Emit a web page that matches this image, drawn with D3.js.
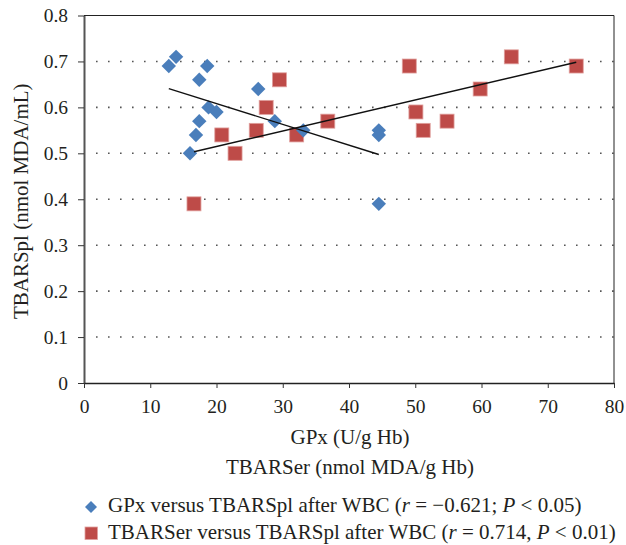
<!DOCTYPE html>
<html>
<head>
<meta charset="utf-8">
<script src="https://cdn.jsdelivr.net/npm/d3@7"></script>
<style>
  body { margin: 0; background: #fff; }
  text { font-family: "Liberation Serif", "DejaVu Serif", serif; fill: #231f20; }
</style>
</head>
<body>
<svg width="626" height="545"></svg>
<script>
// GPx vs TBARSpl (blue diamonds)
const gpxX = [12.8, 13.9, 18.6, 17.4, 26.3, 18.8, 20.0, 17.4, 28.8, 16.9, 16.0, 33.1, 44.5, 44.5, 44.5];
const gpxY = [0.69, 0.71, 0.69, 0.66, 0.64, 0.60, 0.59, 0.57, 0.57, 0.54, 0.50, 0.55, 0.55, 0.54, 0.39];
// TBARSer vs TBARSpl (red squares)
const serX = [16.6, 20.8, 22.8, 26.0, 27.5, 29.5, 32.1, 36.8, 49.1, 50.1, 51.2, 54.8, 59.8, 64.5, 74.3];
const serY = [0.39, 0.54, 0.50, 0.55, 0.60, 0.66, 0.54, 0.57, 0.69, 0.59, 0.55, 0.57, 0.64, 0.71, 0.69];

const xTicks = [0, 10, 20, 30, 40, 50, 60, 70, 80];
const yTicks = [0, 0.1, 0.2, 0.3, 0.4, 0.5, 0.6, 0.7, 0.8];

const svg = d3.select('svg');
const pLeft = 84, pRight = 614, pTop = 15.5, pBottom = 383;

const x = d3.scaleLinear().domain([0, 80]).range([pLeft, pRight]);
const y = d3.scaleLinear().domain([0, 0.8]).range([pBottom, pTop]);

// dotted gridlines
svg.append('g')
  .selectAll('line')
  .data(yTicks.filter(t => t > 0 && t < 0.8))
  .enter().append('line')
  .attr('x1', pLeft + 12).attr('x2', pRight)
  .attr('y1', d => y(d)).attr('y2', d => y(d))
  .attr('stroke', '#555')
  .attr('stroke-width', 1.6)
  .attr('stroke-dasharray', '1.6,10.4');

// plot frame (top/right)
svg.append('path')
  .attr('d', `M${pLeft},${pTop}H${pRight}V${pBottom}`)
  .attr('fill', 'none')
  .attr('stroke', '#222')
  .attr('stroke-width', 1);

// axes
const yAxis = svg.append('g')
  .attr('transform', `translate(${pLeft},0)`)
  .call(d3.axisLeft(y).tickValues(yTicks).tickSize(6).tickSizeOuter(0)
    .tickFormat(d => d === 0 ? '0' : d3.format('.1f')(d)));
yAxis.select('.domain').attr('stroke', '#555').attr('stroke-width', 2);
yAxis.selectAll('.tick line').attr('stroke', '#333');
yAxis.selectAll('.tick text').attr('x', -16).attr('dy', '0.32em').style('font-size', '19.5px');

const xAxis = svg.append('g')
  .attr('transform', `translate(0,${pBottom})`)
  .call(d3.axisBottom(x).tickValues(xTicks).tickSize(5).tickSizeOuter(0));
xAxis.select('.domain').attr('stroke', '#222').attr('stroke-width', 1.3);
xAxis.selectAll('.tick line').attr('stroke', '#333');
xAxis.selectAll('.tick text').attr('y', 16).style('font-size', '19.5px');

// least-squares trend line
function trend(xs, ys) {
  const n = xs.length;
  const mx = d3.mean(xs), my = d3.mean(ys);
  let sxy = 0, sxx = 0;
  for (let i = 0; i < n; i++) { sxy += (xs[i] - mx) * (ys[i] - my); sxx += (xs[i] - mx) ** 2; }
  const b = sxy / sxx, a = my - b * mx;
  const x0 = d3.min(xs), x1 = d3.max(xs);
  return [[x0, a + b * x0], [x1, a + b * x1]];
}

const blue = '#4A7EBB', red = '#BE4B48';

// red squares
svg.append('g').selectAll('rect')
  .data(d3.zip(serX, serY))
  .enter().append('rect')
  .attr('x', d => x(d[0]) - 7).attr('y', d => y(d[1]) - 7)
  .attr('width', 14).attr('height', 14)
  .attr('fill', red).attr('stroke', '#E0A09E').attr('stroke-width', 0.8);

// blue diamonds
const diamond = d3.symbol().type(d3.symbolSquare).size(104);
svg.append('g').selectAll('path')
  .data(d3.zip(gpxX, gpxY))
  .enter().append('path')
  .attr('d', diamond)
  .attr('transform', d => `translate(${x(d[0])},${y(d[1])}) rotate(45)`)
  .attr('fill', blue);

// trend lines
const line = d3.line().x(d => x(d[0])).y(d => y(d[1]));
[trend(gpxX, gpxY), trend(serX, serY)].forEach(t => {
  svg.append('path').attr('d', line(t))
    .attr('fill', 'none').attr('stroke', '#111').attr('stroke-width', 1.4);
});

// axis titles
svg.append('text')
  .attr('transform', `translate(28,${(pTop + pBottom) / 2 + 2}) rotate(-90)`)
  .attr('text-anchor', 'middle')
  .style('font-size', '21px')
  .text('TBARSpl (nmol MDA/mL)');

svg.append('text')
  .attr('x', (pLeft + pRight) / 2 + 1).attr('y', 444)
  .attr('text-anchor', 'middle')
  .style('font-size', '21px')
  .text('GPx (U/g Hb)');

svg.append('text')
  .attr('x', (pLeft + pRight) / 2 + 1).attr('y', 474)
  .attr('text-anchor', 'middle')
  .style('font-size', '21px')
  .text('TBARSer (nmol MDA/g Hb)');

// legend
const lg = svg.append('g').style('font-size', '21px');
lg.append('path').attr('d', d3.symbol().type(d3.symbolSquare).size(72)())
  .attr('transform', 'translate(91,507) rotate(45)').attr('fill', blue);
const t1 = lg.append('text').attr('x', 108).attr('y', 512);
t1.append('tspan').text('GPx versus TBARSpl after WBC (');
t1.append('tspan').style('font-style', 'italic').text('r');
t1.append('tspan').text(' = \u22120.621; ');
t1.append('tspan').style('font-style', 'italic').text('P');
t1.append('tspan').text(' < 0.05)');

lg.append('rect').attr('x', 85).attr('y', 527).attr('width', 12.5).attr('height', 12.5)
  .attr('fill', red).attr('stroke', '#E0A09E').attr('stroke-width', 0.8);
const t2 = lg.append('text').attr('x', 108).attr('y', 539);
t2.append('tspan').text('TBARSer versus TBARSpl after WBC (');
t2.append('tspan').style('font-style', 'italic').text('r');
t2.append('tspan').text(' = 0.714, ');
t2.append('tspan').style('font-style', 'italic').text('P');
t2.append('tspan').text(' < 0.01)');
</script>
</body>
</html>
